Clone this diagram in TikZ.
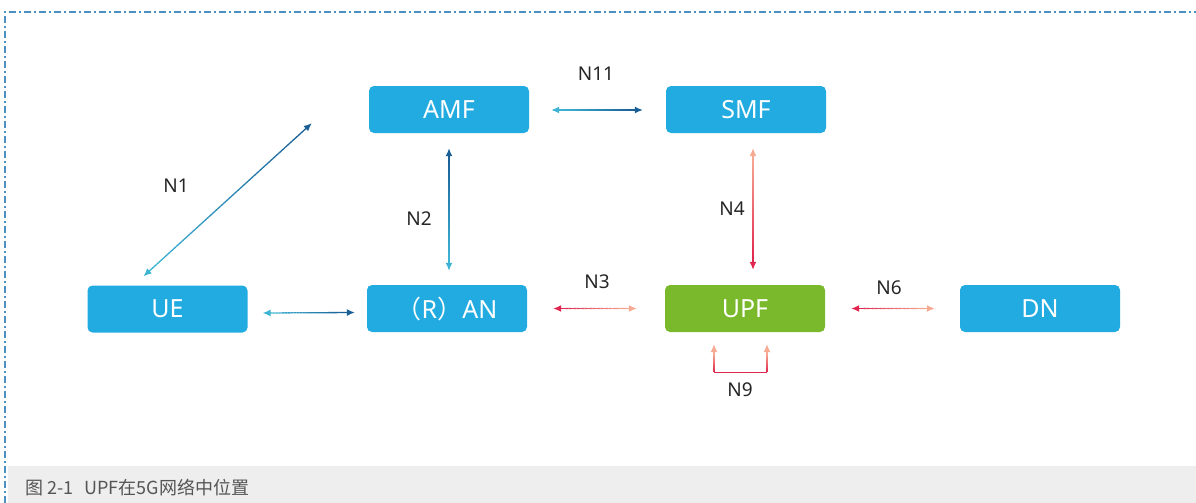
\documentclass[tikz,border=0pt]{standalone}
\usepackage{fontspec}
\setmainfont{Noto Sans}
\newfontfamily\cjk{Noto Sans CJK SC}
\usetikzlibrary{calc,arrows.meta,positioning}
\definecolor{boxblue}{HTML}{22ABE0}
\definecolor{boxgreen}{HTML}{7AB92C}
\definecolor{dkblue}{HTML}{1A5E96}
\definecolor{ltblue}{HTML}{3DB4D4}
\definecolor{crimson}{HTML}{E0264E}
\definecolor{salmon}{HTML}{F6AA92}
\definecolor{framecol}{HTML}{4A90C0}
\definecolor{capgrey}{HTML}{EEEEEE}
\definecolor{labgrey}{HTML}{555555}
% gradient line from #1 to #2, colour #3 to #4
\newcommand\gradline[4]{%
  \foreach \k in {1,...,24}{%
    \pgfmathsetmacro\sa{(\k-1)/24}%
    \pgfmathsetmacro\sb{\k/24}%
    \pgfmathtruncatemacro\p{100*(\k-0.5)/24}%
    \draw[link,#4!\p!#3] ($(#1)!\sa!(#2)$) -- ($(#1)!\sb!(#2)$);
  }}
% double headed gradient arrow
\newcommand\gradarrow[4]{%
  \path ($(#1)!10pt!(#2)$) coordinate (ta) ($(#2)!10pt!(#1)$) coordinate (tb);
  \gradline{ta}{tb}{#3}{#4}
  \draw[link,#3,-{Latex[length=8pt,width=7pt]}] (ta) -- (#1);
  \draw[link,#4,-{Latex[length=8pt,width=7pt]}] (tb) -- (#2);}
\begin{document}
\begin{tikzpicture}[x=1pt,y=-1pt,
  nf/.style={fill=boxblue,rounded corners=5pt,minimum width=160pt,minimum height=47pt,
    text=white,font=\fontsize{25}{25}\selectfont,inner sep=0pt},
  link/.style={line width=1.3pt},
  lab/.style={font=\fontsize{19}{19}\selectfont,text=black!85}]
  \useasboundingbox (0,0) rectangle (1196,503);
  % frame and caption
  \fill[capgrey] (8,466) rectangle (1196,503);
  \draw[framecol,line width=1.4pt,dash pattern=on 7pt off 3pt on 2pt off 3pt]
    (5,503) -- (5,12) -- (1196,12);
  \node[anchor=west,text=labgrey,font=\fontsize{18}{18}\selectfont] (cap) at (22,488)
    {\cjk 图 2-1\hspace{0.6em}UPF在5G网络中位置};
  % network functions
  \node[nf] (amf) at (449,109.5) {AMF};
  \node[nf] (smf) at (746,109.5) {SMF};
  \node[nf] (ue) at (167.5,309) {UE};
  \node[nf] (ran) at (447,308.5) {{\cjk（}R{\cjk）}AN};
  \node[nf,fill=boxgreen] (upf) at (745,308.5) {UPF};
  \node[nf] (dn) at (1040,308.5) {DN};
  % interfaces
  \coordinate (n1a) at ($(ue.north)+(-24,-9)$);
  \coordinate (n1b) at ($(amf.south west)+(-57,-10)$);
  \gradarrow{n1a}{n1b}{ltblue}{dkblue}
  \node[lab] (l1) at (176,186) {N1};
  \gradarrow{$(ue.east)+(15,4)$}{$(ran.west)+(-12,4)$}{ltblue}{dkblue}
  \gradarrow{$(amf.east)+(22,0.5)$}{$(smf.west)+(-23,0.5)$}{ltblue}{dkblue}
  \node[lab] (l11) at (596,74) {N11};
  \gradarrow{$(ran.north)+(2,-14)$}{$(amf.south)+(0,15)$}{ltblue}{dkblue}
  \node[lab] (l2) at (419,219) {N2};
  \gradarrow{$(upf.north)+(8,-15)$}{$(smf.south)+(7,15)$}{crimson}{salmon}
  \node[lab] (l4) at (732,209) {N4};
  \gradarrow{$(ran.east)+(26,0)$}{$(upf.west)+(-28,0)$}{crimson}{salmon}
  \node[lab] (l3) at (597,282) {N3};
  \gradarrow{$(upf.east)+(26,0)$}{$(dn.west)+(-25,0)$}{crimson}{salmon}
  \node[lab] (l6) at (889,288) {N6};
  % N9 loop
  \coordinate (n9a) at ($(upf.south)+(-31,12)$);
  \coordinate (n9b) at ($(upf.south)+(22,12)$);
  \coordinate (n9c) at ($(n9a)+(0,28)$);
  \coordinate (n9d) at ($(n9b)+(0,28)$);
  \draw[link,crimson] (n9c) -- (n9d);
  \path ($(n9a)+(0,10)$) coordinate (n9e) ($(n9b)+(0,10)$) coordinate (n9f);
  \gradline{n9c}{n9e}{crimson}{salmon}
  \gradline{n9d}{n9f}{crimson}{salmon}
  \draw[link,salmon,-{Latex[length=8pt,width=7pt]}] (n9e) -- (n9a);
  \draw[link,salmon,-{Latex[length=8pt,width=7pt]}] (n9f) -- (n9b);
  \node[lab] (l9) at (740,390) {N9};
\end{tikzpicture}
\end{document}
